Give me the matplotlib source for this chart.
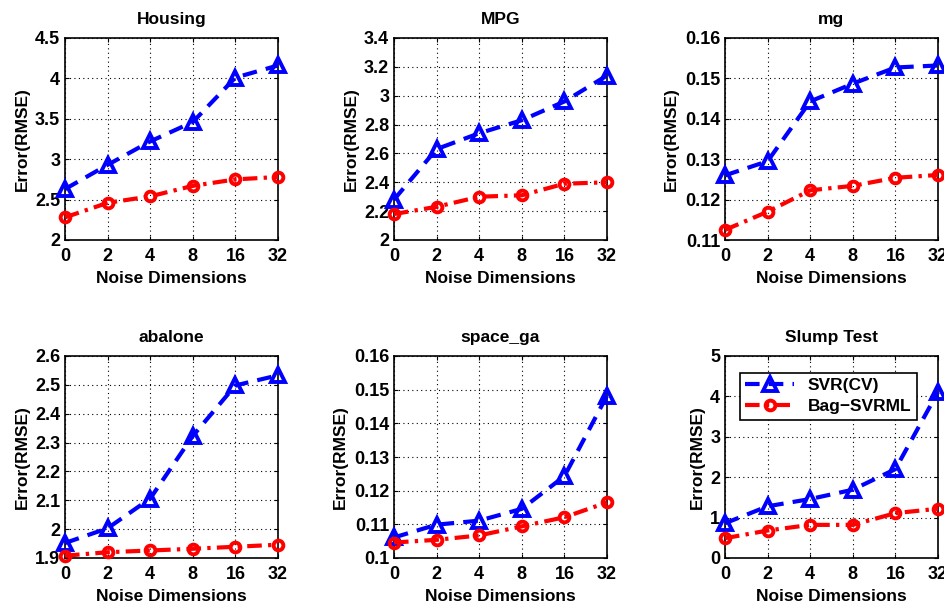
import numpy as np
import matplotlib.pyplot as plt

plt.rcParams['font.family'] = ['Liberation Sans', 'DejaVu Sans']
plt.rcParams['font.weight'] = 'bold'

noise_dims = ['0', '2', '4', '8', '16', '32']

titles = ['Housing', 'MPG', 'mg', 'abalone', 'space_ga', 'Slump Test']

svr_housing = [2.63, 2.93, 3.22, 3.46, 4.01, 4.16]
bag_housing = [2.28, 2.46, 2.54, 2.67, 2.75, 2.78]
svr_mpg = [2.28, 2.63, 2.74, 2.83, 2.96, 3.14]
bag_mpg = [2.18, 2.23, 2.30, 2.31, 2.39, 2.40]
svr_mg = [0.1260, 0.1295, 0.1443, 0.1487, 0.1527, 0.1532]
bag_mg = [0.1125, 0.1170, 0.1223, 0.1234, 0.1254, 0.1261]
svr_abalone = [1.952, 2.003, 2.106, 2.323, 2.498, 2.533]
bag_abalone = [1.908, 1.920, 1.926, 1.932, 1.939, 1.946]
svr_space = [0.1061, 0.1099, 0.1111, 0.1146, 0.1243, 0.1482]
bag_space = [0.1046, 0.1054, 0.1067, 0.1094, 0.1121, 0.1165]
svr_slump = [0.86, 1.28, 1.46, 1.69, 2.20, 4.11]
bag_slump = [0.49, 0.68, 0.82, 0.82, 1.11, 1.22]

svr_all = [svr_housing, svr_mpg, svr_mg, svr_abalone, svr_space, svr_slump]
bag_all = [bag_housing, bag_mpg, bag_mg, bag_abalone, bag_space, bag_slump]

yticks_all = [
    [2, 2.5, 3, 3.5, 4, 4.5],
    [2, 2.2, 2.4, 2.6, 2.8, 3, 3.2, 3.4],
    [0.11, 0.12, 0.13, 0.14, 0.15, 0.16],
    [1.9, 2, 2.1, 2.2, 2.3, 2.4, 2.5, 2.6],
    [0.1, 0.11, 0.12, 0.13, 0.14, 0.15, 0.16],
    [0, 1, 2, 3, 4, 5],
]

fig = plt.figure(figsize=(9.45, 6.04), dpi=100)

lefts = [65, 394, 725]
tops = [38, 356]
W, H = 945.0, 604.0
aw, ah = 213, 202

x = np.arange(len(noise_dims))

for i in range(6):
    r, c = divmod(i, 3)
    ax = fig.add_axes([lefts[c] / W, (H - tops[r] - ah) / H, aw / W, ah / H])
    ax.plot(x, svr_all[i], color='blue', linestyle=(0, (3.5, 2.2)), linewidth=3,
            marker='^', markersize=10, markerfacecolor='none',
            markeredgecolor='blue', markeredgewidth=2.8, label='SVR(CV)',
            clip_on=False, zorder=3)
    ax.plot(x, bag_all[i], color='red', linestyle=(0, (3.5, 1.5, 0.8, 1.5)), linewidth=3,
            marker='o', markersize=7, markerfacecolor='none',
            markeredgecolor='red', markeredgewidth=2.8, label='Bag\u2212SVRML',
            clip_on=False, zorder=3)
    ax.set_xlim(0, 5)
    yt = yticks_all[i]
    ax.set_ylim(yt[0], yt[-1])
    ax.set_xticks(x)
    ax.set_xticklabels(noise_dims)
    ax.set_yticks(yt)
    ax.set_yticklabels(['%g' % v for v in yt])
    ax.tick_params(direction='in', labelsize=13, top=True, right=True, length=3)
    ax.tick_params(axis='x', pad=6)
    for lab in ax.get_xticklabels() + ax.get_yticklabels():
        lab.set_fontweight('bold')
    ax.grid(True, linestyle=(0, (1, 3)), color='black', linewidth=0.8)
    ax.set_title(titles[i], fontsize=12.5, fontweight='bold', pad=10)
    ax.set_xlabel('Noise Dimensions', fontsize=12.5, fontweight='bold', labelpad=4)
    ax.set_ylabel('Error(RMSE)', fontsize=12.5, fontweight='bold', labelpad=4)
    for s in ax.spines.values():
        s.set_linewidth(1.2)
    if i == 5:
        leg = ax.legend(loc='upper left', fontsize=12.5, fancybox=False,
                        edgecolor='black', framealpha=1, handlelength=2.8,
                        borderpad=0.3, labelspacing=0.35,
                        bbox_to_anchor=(0.03, 0.96))
        leg.get_frame().set_linewidth(1.2)
        for t in leg.get_texts():
            t.set_fontweight('bold')

fig.savefig('out.png', dpi=100)
